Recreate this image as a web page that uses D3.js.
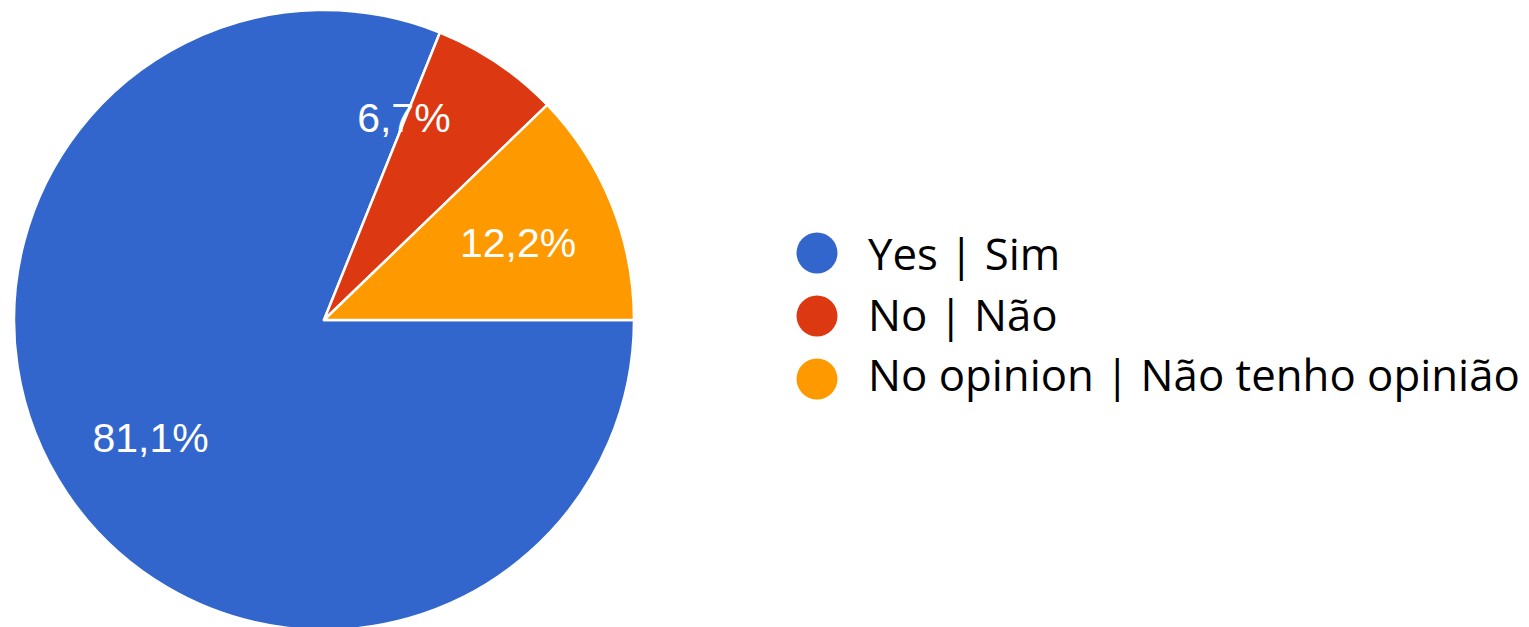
<!DOCTYPE html>
<html>
<head>
<meta charset="utf-8">
<script src="https://cdn.jsdelivr.net/npm/d3@7"></script>
<style>
  html, body { margin: 0; padding: 0; background: #ffffff; }
  svg { display: block; }
</style>
</head>
<body>
<svg id="chart" width="1529" height="627"></svg>
<script>
// ---- data ----
const categories = ["Yes | Sim", "No | Não", "No opinion | Não tenho opinião"];
const values = [81.1, 6.7, 12.2];
const valueLabels = ["81,1%", "6,7%", "12,2%"];
const colors = ["#3366cc", "#dc3912", "#ff9900"];

// ---- layout ----
const W = 1529, H = 627;
const cx = 324, cy = 320, R = 310;
const svg = d3.select("#chart");

const data = categories.map((c, i) => ({ cat: c, value: values[i], label: valueLabels[i], color: colors[i] }));

const pie = d3.pie()
  .sort(null)
  .value(d => d.value)
  .startAngle(Math.PI / 2)
  .endAngle(Math.PI / 2 + 2 * Math.PI);

const arcs = pie(data);
const arc = d3.arc().innerRadius(0).outerRadius(R);
const labelArc = d3.arc().innerRadius(R * 0.675).outerRadius(R * 0.675);
const smallLabelArc = d3.arc().innerRadius(R * 0.73).outerRadius(R * 0.73);

const g = svg.append("g").attr("transform", `translate(${cx},${cy})`);

g.selectAll("path.slice")
  .data(arcs)
  .enter().append("path")
  .attr("class", "slice")
  .attr("d", arc)
  .attr("fill", d => d.data.color)
  .attr("stroke", "#ffffff")
  .attr("stroke-width", 2.5)
  .attr("stroke-linejoin", "round");

// slice labels
g.selectAll("text.pct")
  .data(arcs)
  .enter().append("text")
  .attr("class", "pct")
  .each(function (d) {
    const small = (d.endAngle - d.startAngle) < Math.PI / 6;
    const p = small ? smallLabelArc.centroid(d) : labelArc.centroid(d);
    const t = d3.select(this)
      .attr("x", p[0])
      .attr("y", p[1])
      .text(d.data.label);
    if (small) {
      t.attr("text-anchor", "end").attr("dy", "-0.02em");
    } else {
      t.attr("text-anchor", "middle").attr("dy", "0.36em");
    }
  })
  .attr("fill", "#ffffff")
  .attr("font-family", "'Liberation Sans', Arial, sans-serif")
  .attr("font-size", 41);

// legend
const legend = svg.append("g").attr("class", "legend");
const yCircle = d3.scalePoint().domain(categories).range([253, 379]);
const yText = d3.scalePoint().domain(categories).range([270, 391]);

legend.selectAll("circle")
  .data(data)
  .enter().append("circle")
  .attr("cx", 817)
  .attr("cy", d => yCircle(d.cat))
  .attr("r", 20.5)
  .attr("fill", d => d.color);

const texts = legend.selectAll("text")
  .data(data)
  .enter().append("text")
  .attr("x", 0)
  .attr("y", 0)
  .attr("font-family", "'Open Sans', 'Noto Sans', sans-serif")
  .attr("font-size", 44)
  .attr("fill", "#000000")
  .text(d => d.cat);

// fit the longest legend label to the reference width
let maxW = 0;
texts.each(function () { maxW = Math.max(maxW, this.getComputedTextLength()); });
const sx = 652 / maxW;
texts.attr("transform", d => `translate(868,${yText(d.cat)}) scale(${sx},1)`);
</script>
</body>
</html>
